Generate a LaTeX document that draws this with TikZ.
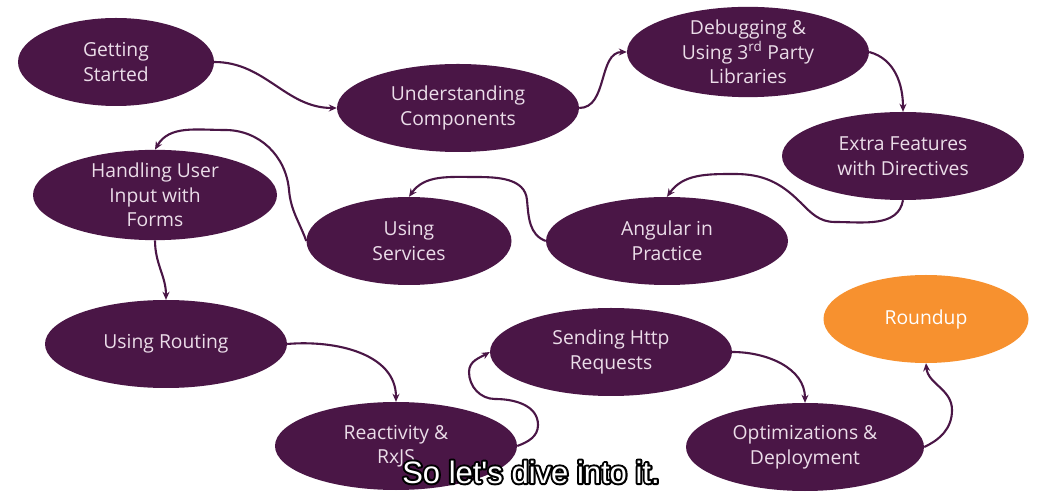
\documentclass[tikz,border=0pt]{standalone}
\usepackage{fontspec}
\setmainfont{Open Sans}
\newfontfamily\capfont{Liberation Sans}
\usetikzlibrary{arrows.meta,positioning,shapes.geometric}
\definecolor{plum}{HTML}{4A1646}
\definecolor{tangerine}{HTML}{F7912F}
\definecolor{chalk}{HTML}{EBDDE9}
\newcommand{\outlined}[1]{\makebox[0pt][l]{\special{pdf:code q 1 Tr 0 G 4 w 1 j}#1\special{pdf:code Q}}#1}

\begin{document}
\begin{tikzpicture}[x=1pt, y=1pt, >={Stealth[length=8pt,width=7pt]},
  topic/.style={ellipse, fill=plum, text=chalk, minimum width=242, minimum height=88,
    inner sep=0pt, align=center, font=\fontsize{19.3}{24.5}\selectfont},
  link/.style={->, draw=plum, line width=2.1pt},
  subtitle/.style={font=\capfont\fontsize{31}{31}\selectfont, text=white}]
\useasboundingbox[fill=white] (0,0) rectangle (1056,500);

% topics
\node[topic, minimum width=196] (start) at (116,438) {Getting\\Started};
\node[topic] (comp) at (458,392) {Understanding\\Components};
\node[topic] (debug) at (748,448) {Debugging \&\\Using 3\textsuperscript{rd} Party\\Libraries};
\node[topic] (direct) at (903,344) {Extra Features\\with Directives};
\node[topic] (practice) at (667,259) {Angular in\\Practice};
\node[topic, minimum width=205] (serv) at (409,259) {Using\\Services};
\node[topic, minimum width=244] (forms) at (155,305) {Handling User\\Input with\\Forms};
\node[topic] (routing) at (166,156) {Using Routing};
\node[topic] (rxjs) at (396,54) {Reactivity \&\\RxJS};
\node[topic] (http) at (611,148) {Sending Http\\Requests};
\node[topic, minimum width=238] (deploy) at (805,53) {Optimizations \&\\Deployment};
\node[topic, fill=tangerine, text=white, minimum width=205] (round) at (926,181) {Roundup};

% links
\draw[link] (start.east) to[out=0,in=180] (comp.west);
\draw[link] (comp.east) to[out=0,in=180] (debug.west);
\draw[link] (debug.east) to[out=-15,in=90] (direct.north);
\draw[link] (direct.south) to[out=-100,in=0] (835,278) to[out=180,in=-45] (800,298)
  to[out=135,in=0] (735,326) to[out=180,in=55] (practice.north);
\draw[link] (practice.west) to[out=160,in=-85] (527,300) to[out=95,in=0] (475,323)
  to[out=180,in=55] (serv.north);
\draw[link] (serv.west) to[out=110,in=-85] (289,310) to[out=95,in=0] (225,370)
  to[out=180,in=60] (forms.north);
\draw[link] (forms.south) to[out=-90,in=90] (routing.north);
\draw[link] (routing.east) to[out=5,in=90] (rxjs.north);
\draw[link] (rxjs.east) to[out=20,in=-90] (538,75) to[out=90,in=0] (495,101)
  to[out=180,in=-90] (469,128) to[out=90,in=210] (http.west);
\draw[link] (http.east) to[out=0,in=90] (deploy.north);
\draw[link] (deploy.east) to[out=25,in=-90] (952,90) to[out=90,in=-85] (round.south);

% subtitle
\node[subtitle] (caption) at (531,28) {\outlined{So let's dive into it.}};
\end{tikzpicture}
\end{document}
